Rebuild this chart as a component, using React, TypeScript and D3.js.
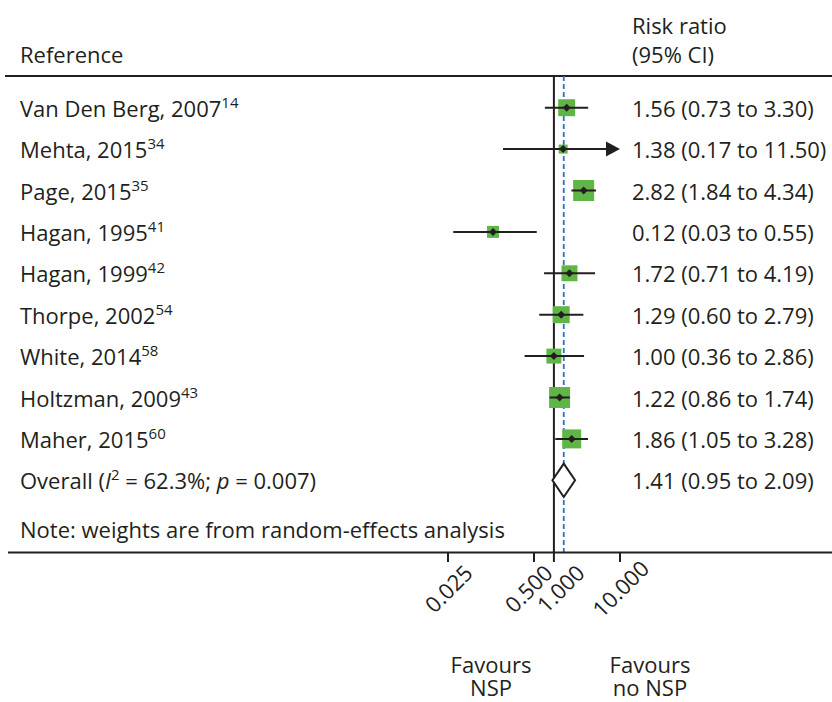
import React from "react";
import * as d3 from "d3";

const studies = ["Van Den Berg, 2007", "Mehta, 2015", "Page, 2015", "Hagan, 1995", "Hagan, 1999", "Thorpe, 2002", "White, 2014", "Holtzman, 2009", "Maher, 2015"];
const refNums = ["14", "34", "35", "41", "42", "54", "58", "43", "60"];
const estimates = [1.56, 1.38, 2.82, 0.12, 1.72, 1.29, 1.0, 1.22, 1.86];
const lowers = [0.73, 0.17, 1.84, 0.03, 0.71, 0.6, 0.36, 0.86, 1.05];
const uppers = [3.3, 11.5, 4.34, 0.55, 4.19, 2.79, 2.86, 1.74, 3.28];
const weights = [11.4, 3.2, 17.5, 5.7, 10.1, 11.4, 8.9, 17.5, 14.3];
const overall = { est: 1.41, lo: 0.95, hi: 2.09, i2: "62.3%", p: "0.007" };
const tickValues = [0.025, 0.5, 1, 10];
const headerTitle = "Reference";
const headerRight = ["Risk ratio", "(95% CI)"];
const noteText = "Note: weights are from random-effects analysis";
const favourLeft = ["Favours", "NSP"];
const favourRight = ["Favours", "no NSP"];

const W = 832;
const H = 702;
const FONT = "'Open Sans', 'Noto Sans', sans-serif";
const INK = "#231f20";
const GREEN = "#5fb646";
const BLUE = "#3c6cc0";

export default function App() {
  const x = d3.scaleLog().domain([0.025, 10]).range([448, 620]);
  const rowIdx = d3.range(studies.length + 1);
  const y = d3.scalePoint<number>().domain(rowIdx).range([107.7, 480.3]);
  const side = d3.scaleSqrt().domain([0, 17.5]).range([0, 21]);
  const fmt = d3.format(".2f");
  const tickFmt = d3.format(".3f");
  const [xMin, xMax] = x.domain();
  const topY = 76;
  const axisY = 552.5;
  const textX = 20;
  const rightX = 632;
  const fs = 22;
  const supFs = 15;

  // nudge crowded tick labels apart
  const tickPos = tickValues.map((t) => x(t));
  const nudges = tickPos.map(() => 0);
  for (let i = 0; i < tickPos.length - 1; i++) {
    const gap = tickPos[i + 1] - tickPos[i];
    if (gap < 32) {
      const push = (32 - gap) / 2;
      nudges[i] -= push;
      nudges[i + 1] += push;
    }
  }

  const diamond = (cx: number, cy: number, r: number) =>
    `M${cx - r},${cy}L${cx},${cy - r}L${cx + r},${cy}L${cx},${cy + r}Z`;

  const favours = (lines: string[], cx: number) => (
    <text x={cx} y={673} fontSize={fs} fill={INK} textAnchor="middle">
      {lines.map((t, i) => (
        <tspan key={i} x={cx} dy={i === 0 ? 0 : 23}>{t}</tspan>
      ))}
    </text>
  );

  return (
    <svg width={W} height={H} style={{ position: "absolute", left: 0, top: 0, background: "#fff" }} fontFamily={FONT}>
      <rect width={W} height={H} fill="#fff" />
      {/* header */}
      <text x={textX} y={63} fontSize={fs} fill={INK}>{headerTitle}</text>
      {headerRight.map((t, i) => (
        <text key={t} x={rightX} y={34 + i * 29} fontSize={fs} fill={INK}>{t}</text>
      ))}
      <line x1={5} x2={W} y1={topY} y2={topY} stroke={INK} strokeWidth={2} />

      {/* reference lines */}
      <line x1={x(1)} x2={x(1)} y1={topY} y2={axisY} stroke={INK} strokeWidth={2} />
      <line x1={x(overall.est)} x2={x(overall.est)} y1={topY} y2={axisY} stroke={BLUE} strokeWidth={1.8} strokeDasharray="5,3" />

      {/* study rows */}
      {studies.map((s, i) => {
        const cy = y(i)!;
        const lo = Math.max(lowers[i], xMin);
        const hiClipped = uppers[i] > xMax;
        const hi = Math.min(uppers[i], xMax);
        const sz = side(weights[i]);
        const ex = x(estimates[i]);
        return (
          <g key={s}>
            <rect x={ex - sz / 2} y={cy - sz / 2} width={sz} height={sz} fill={GREEN} />
            <line x1={x(lo)} x2={hiClipped ? x(hi) - 12 : x(hi)} y1={cy} y2={cy} stroke={INK} strokeWidth={2} />
            {hiClipped && (
              <path d={`M${x(hi) - 14},${cy - 7.5}L${x(hi)},${cy}L${x(hi) - 14},${cy + 7.5}Z`} fill={INK} />
            )}
            <path d={diamond(ex, cy, 4)} fill={INK} />
            <text x={textX} y={cy + 9} fontSize={fs} fill={INK}>
              {s}
              <tspan fontSize={supFs} dy={-9}>{refNums[i]}</tspan>
            </text>
            <text x={rightX} y={cy + 9} fontSize={fs} fill={INK}>
              {`${fmt(estimates[i])} (${fmt(lowers[i])} to ${fmt(uppers[i])})`}
            </text>
          </g>
        );
      })}

      {/* overall */}
      {(() => {
        const cy = y(studies.length)!;
        return (
          <g>
            <path
              d={`M${x(overall.lo)},${cy}L${x(overall.est)},${cy - 16.7}L${x(overall.hi)},${cy}L${x(overall.est)},${cy + 16.7}Z`}
              fill="#fff"
              stroke={INK}
              strokeWidth={2}
              strokeLinejoin="miter"
            />
            <text x={textX} y={cy + 9} fontSize={fs} fill={INK}>
              {"Overall ("}
              <tspan fontStyle="italic">I</tspan>
              <tspan fontSize={supFs} dy={-9}>2</tspan>
              <tspan dy={9}>{` = ${overall.i2}; `}</tspan>
              <tspan fontStyle="italic">p</tspan>
              {` = ${overall.p})`}
            </text>
            <text x={rightX} y={cy + 9} fontSize={fs} fill={INK}>
              {`${fmt(overall.est)} (${fmt(overall.lo)} to ${fmt(overall.hi)})`}
            </text>
          </g>
        );
      })()}

      {/* note */}
      <text x={textX} y={538} fontSize={fs} fill={INK}>{noteText}</text>

      {/* axis */}
      <line x1={8} x2={W} y1={axisY} y2={axisY} stroke={INK} strokeWidth={2} />
      {tickValues.map((t, i) => (
        <g key={t}>
          <line x1={x(t)} x2={x(t)} y1={axisY} y2={axisY + 9.5} stroke={INK} strokeWidth={2} />
          <text
            transform={`translate(${x(t) + nudges[i]},${588}) rotate(-45)`}
            textAnchor="middle"
            dominantBaseline="central"
            fontSize={fs}
            fill={INK}
          >
            {tickFmt(t)}
          </text>
        </g>
      ))}

      {/* favours labels */}
      {favours(favourLeft, 491)}
      {favours(favourRight, 650)}
    </svg>
  );
}
